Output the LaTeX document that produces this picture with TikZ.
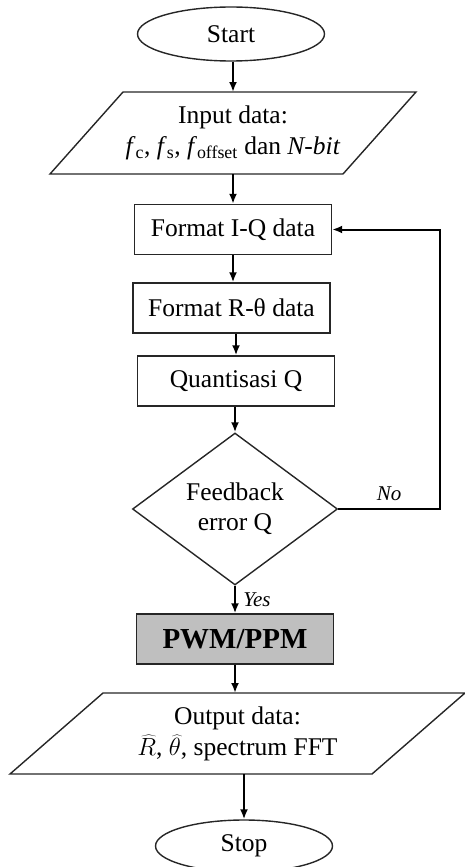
\documentclass[tikz,border=0pt]{standalone}
\usepackage{fontspec}
\setmainfont{Liberation Serif}
\usetikzlibrary{shapes.geometric,arrows.meta}
\tikzstyle{outline} = [draw=black!85, line width=1.4pt]
\tikzstyle{block} = [rectangle, outline, minimum width=197pt, minimum height=50pt, inner sep=2pt, font=\fontsize{25.5}{31}\selectfont]
\tikzstyle{term} = [ellipse, outline, inner sep=0pt, font=\fontsize{25.5}{31}\selectfont]
\tikzstyle{iobox} = [rectangle, minimum height=82pt, inner sep=0pt, outer sep=0pt, align=center, font=\fontsize{25.5}{31}\selectfont]
\tikzstyle{decide} = [diamond, outline, minimum width=205pt, minimum height=152pt, aspect=1.35, inner sep=0pt, align=center, font=\fontsize{25.5}{30}\selectfont]
\tikzstyle{flow} = [draw=black, line width=2pt, -{Latex[length=10pt,width=8pt]}]
\tikzstyle{answer} = [font=\itshape\fontsize{21}{24}\selectfont]

\begin{document}
\begin{tikzpicture}[x=1pt,y=-1pt]
	\useasboundingbox (0,0) rectangle (465,867);
	% boxes
	\node [term, minimum width=187pt, minimum height=54pt] (start) at (231,34) {Start};
	\node [iobox, minimum width=293pt] (input) at (233,133)
		{Input data:\\ \textit{f}\textsubscript{c}, \textit{f}\textsubscript{s}, \textit{f}\textsubscript{offset} dan \textit{N-bit}};
	\draw [outline] ([xshift=-36.5pt]input.south west) -- ([xshift=36.5pt]input.north west)
		-- ([xshift=36.5pt]input.north east) -- ([xshift=-36.5pt]input.south east) -- cycle;
	\node [block] (iq) at (233,229.5) {Format I-Q data};
	\node [block] (rt) at (231.5,308) {Format R-θ data};
	\node [block] (quant) at (236,381) {Quantisasi Q};
	\node [decide] (fb) at (235,509) {Feedback\\error Q};
	\node [block, fill=gray!50, font=\bfseries\fontsize{29}{34}\selectfont] (pwm) at (235,639) {PWM/PPM};
	\node [iobox, minimum width=362pt, minimum height=81pt] (output) at (237.5,733.5)
		{Output data:\\ $\widehat{R}$, $\widehat{\theta}$, spectrum FFT};
	\draw [outline] ([xshift=-46.5pt]output.south west) -- ([xshift=46.5pt]output.north west)
		-- ([xshift=46.5pt]output.north east) -- ([xshift=-46.5pt]output.south east) -- cycle;
	\node [term, minimum width=177pt, minimum height=52pt] (stop) at (244,846) {Stop};
	% arrows
	\draw [flow] (input.north |- start.south) -- (input.north);
	\draw [flow] (input.south) -- (input.south |- iq.north);
	\draw [flow] (iq.south) -- (iq.south |- rt.north);
	\draw [flow] (quant.north |- rt.south) -- (quant.north);
	\draw [flow] (fb.north |- quant.south) -- (fb.north);
	\draw [flow] (fb.south) -- node [answer, right=4pt] {Yes} (fb.south |- pwm.north);
	\draw [flow] (pwm.south) -- (pwm.south |- output.north);
	\draw [flow] (stop.north |- output.south) -- (stop.north);
	% feedback loop
	\draw [flow] (fb.east) -- node [answer, above=4pt] {No} ++(102,0) |- (iq.east);
\end{tikzpicture}
\end{document}
